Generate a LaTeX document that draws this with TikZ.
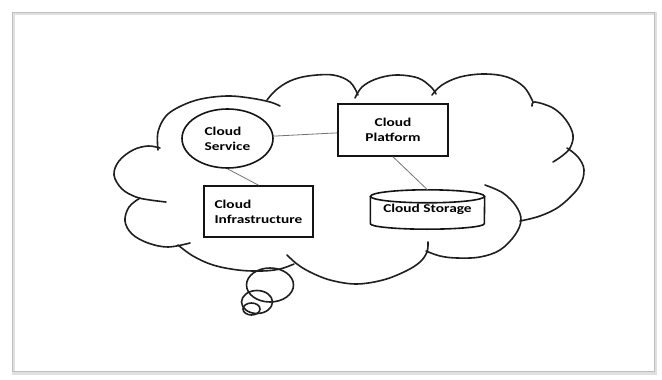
\documentclass[tikz,border=0pt]{standalone}
\usepackage{fontspec}
\setmainfont{Carlito}[FakeStretch=1.28]
\usetikzlibrary{shapes.geometric}

\tikzset{
  cloudline/.style={draw=black!88, line width=1.6pt, line cap=round},
  boxline/.style={draw=black!92, line width=1.6pt},
  label/.style={font=\bfseries\fontsize{12pt}{15pt}\selectfont, text=black},
  service/.style={ellipse, boxline, label, align=left, minimum width=91pt, minimum height=59pt, inner sep=0pt},
  framebox/.style={rectangle, boxline, label, inner sep=0pt},
  storagebox/.style={rectangle, draw=none, label, inner sep=0pt, minimum width=114pt, minimum height=39pt},
  link/.style={draw=black!55, line width=0.8pt},
  sketchframe/.style={draw=black!25, line width=1pt},
  sketchshadow/.style={draw=black!12, line width=3pt}
}

\begin{document}
\begin{tikzpicture}[x=1pt, y=-1pt]
\useasboundingbox (0,0) rectangle (662,380);
\fill[white] (0,0) rectangle (662,380);

% picture frame with a soft drop shadow
\draw[sketchshadow] (13.5,13.5) rectangle (655.5,373);
\draw[sketchframe] (12,12) rectangle (654,371);

% cloud outline, one lobe at a time (ends run on a little past each joint)
\draw[cloudline] plot[smooth, tension=0.6] coordinates {(158,150) (158,132) (166,116) (181,106) (201,99) (227,96) (250,98) (270,102) (280,106)};
\draw[cloudline] plot[smooth, tension=0.6] coordinates {(267,100) (276,90) (290,81) (308,76) (333,75) (350,82) (358,95)};
\draw[cloudline] plot[smooth, tension=0.6] coordinates {(355,98) (362,87) (376,79) (396,75) (418,78) (431,87) (436,94)};
\draw[cloudline] plot[smooth, tension=0.6] coordinates {(432,95) (442,85) (460,77) (484,74) (507,77) (524,87) (533,102)};
\draw[cloudline] plot[smooth, tension=0.6] coordinates {(532,106) (535,102) (553,108) (566,120) (573,135) (570,148) (562,156) (553,162)};
\draw[cloudline] plot[smooth, tension=0.6] coordinates {(567,148) (578,157) (584,170) (579,187) (560,206) (540,216) (520,221)};
\draw[cloudline] plot[smooth, tension=0.6] coordinates {(485,185) (503,193) (516,206) (521,220) (515,235) (500,250) (480,257) (457,258) (440,256) (426,251)};
\draw[cloudline] plot[smooth, tension=0.6] coordinates {(428,242) (427,252) (420,262) (406,271) (383,280) (356,284) (330,280) (310,272) (297,264) (287,255)};
\draw[cloudline] plot[smooth, tension=0.6] coordinates {(294,264) (280,269) (262,271) (238,270) (213,265) (193,256) (178,245)};
\draw[cloudline] plot[smooth, tension=0.6] coordinates {(190,243) (168,247) (148,243) (132,234) (125,221) (129,207) (140,198)};
\draw[cloudline] plot[smooth, tension=0.6] coordinates {(166,202) (150,200) (136,197) (122,189) (114,175) (119,161) (133,150) (148,146) (160,148)};

% thought bubbles under the cloud
\draw[cloudline] (270,285) ellipse [x radius=23.5, y radius=17];
\draw[cloudline] (257,302) ellipse [x radius=15.5, y radius=11.5];
\draw[cloudline] (251.5,309) ellipse [x radius=8.5, y radius=6];

% nodes
\node[service] (service) at (227.5,138.5) {Cloud\\Service};
\node[framebox, minimum width=110pt, minimum height=52pt, align=center] (platform) at (393,130) {Cloud\\Platform};
\node[framebox, minimum width=109pt, minimum height=51pt, align=left] (infra) at (258.5,211.5) {Cloud\\Infrastructure};
\node[storagebox] (storage) at (427.5,209.5) {Cloud Storage};

% cylinder outline around the storage node
\draw[boxline] ([yshift=-6.5pt]storage.north) ellipse [x radius=57, y radius=6.5];
\draw[boxline] ([yshift=-6.5pt]storage.north west) -- ([yshift=5.5pt]storage.south west)
  arc[start angle=180, end angle=0, x radius=57, y radius=5.5]
  -- ([yshift=-6.5pt]storage.north east);

% connectors
\draw[link] (service) -- (platform);
\draw[link] (service.south) -- (infra.north);
\draw[link] (platform.south) -- (storage.north);
\end{tikzpicture}
\end{document}
